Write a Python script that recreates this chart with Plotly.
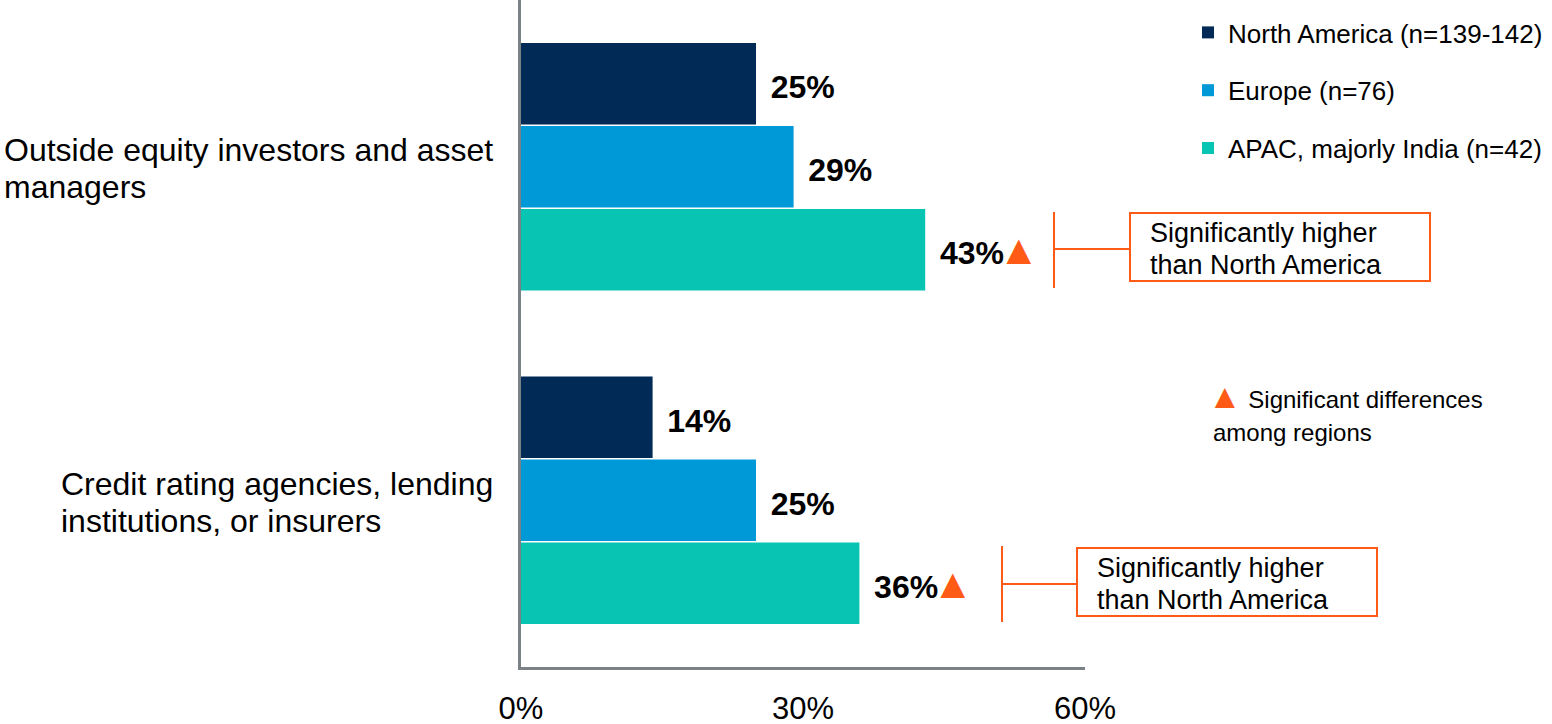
import plotly.graph_objects as go

categories = ["Outside equity investors and asset managers",
              "Credit rating agencies, lending institutions, or insurers"]
category_lines = [["Outside equity investors and asset", "managers"],
                  ["Credit rating agencies, lending", "institutions, or insurers"]]
regions = ["North America (n=139-142)", "Europe (n=76)", "APAC, majorly India (n=42)"]
north_america = [25, 14]
europe = [29, 25]
apac = [43, 36]
apac_significant = [True, True]
x_ticks = [0, 30, 60]
x_tick_labels = ["0%", "30%", "60%"]
callout_lines = ["Significantly higher", "than North America"]
note_lines = ["Significant differences", "among regions"]

colors = ["#012A56", "#0099D7", "#08C4B2"]
orange = "#FF5B16"
axis_grey = "#7A8285"
font = "Liberation Sans, Arial, sans-serif"

# plot area in pixels: x 521..1085, y 0..667
L, R, T, B = 521, 1085, 0, 667
label_left = [2, 59]  # left edge of each (left-aligned) category label block


def px(x):
    return (x - L) / (R - L)


def py(y):
    return (B - y) / (B - T)


tri = f"<span style='color:{orange};font-size:42px'>▲</span>"
pad = "<span style='font-size:42px'>\u00a0</span>"


def labels(vals, flags=None):
    out = []
    for i, v in enumerate(vals):
        if flags and flags[i]:
            t = f"{pad}<b>{v}<span style='letter-spacing:-6px'>%</span></b>{tri}"
        else:
            t = f"{pad}<b>{v}%</b>"
        out.append(t)
    return out


fig = go.Figure()
series = [north_america, europe, apac]
for i, (name, vals) in enumerate(zip(regions, series)):
    fig.add_trace(go.Bar(
        y=categories, x=vals, orientation="h", name=name,
        marker=dict(color=colors[i], line=dict(width=0)),
        text=labels(vals, apac_significant if i == 2 else None),
        textposition="outside", constraintext="none", cliponaxis=False,
        textfont=dict(size=32, color="black", family=font),
        legendgroup=name,
    ))

fig.update_layout(
    width=1552, height=724,
    margin=dict(l=L, r=1552 - R, t=T, b=724 - B, autoexpand=False),
    paper_bgcolor="white", plot_bgcolor="white",
    barmode="group", bargap=0.253, bargroupgap=0.02,
    font=dict(family=font, color="black"),
    showlegend=True,
    legend=dict(x=px(1188), y=py(9), xanchor="left", yanchor="top",
                font=dict(size=26), traceorder="grouped", tracegroupgap=21,
                bgcolor="rgba(0,0,0,0)"),
)
fig.update_xaxes(range=[0, 60], tickvals=x_ticks, ticktext=x_tick_labels,
                 showgrid=False, zeroline=False, showline=True,
                 linecolor=axis_grey, linewidth=3, ticks="", automargin=False,
                 tickfont=dict(size=31), ticklabelstandoff=12)
fig.update_yaxes(type="category", categoryarray=categories, autorange="reversed",
                 showticklabels=False, showgrid=False, zeroline=False, automargin=False,
                 showline=True, linecolor=axis_grey, linewidth=3, ticks="")

# category labels, one annotation per line for tighter spacing
for cat, lines, x0 in zip(categories, category_lines, label_left):
    n = len(lines)
    for k, ln in enumerate(lines):
        fig.add_annotation(x=px(x0), xref="paper", y=cat, yref="y", xanchor="left",
                           yshift=(n - 1) / 2 * 37 - k * 37 - 2, text=ln,
                           showarrow=False, font=dict(size=32))

# significance callouts
callouts = [
    dict(vx=1054, vy0=212, vy1=288, hy=249, bx0=1130, bx1=1430, by0=213, by1=281),
    dict(vx=1002, vy0=546, vy1=622, hy=584, bx0=1077, bx1=1377, by0=548, by1=616),
]
for c in callouts:
    line = dict(color=orange, width=2)
    fig.add_shape(type="line", xref="paper", yref="paper", x0=px(c["vx"]), x1=px(c["vx"]),
                  y0=py(c["vy1"]), y1=py(c["vy0"]), line=line)
    fig.add_shape(type="line", xref="paper", yref="paper", x0=px(c["vx"]), x1=px(c["bx0"]),
                  y0=py(c["hy"]), y1=py(c["hy"]), line=line)
    fig.add_shape(type="rect", xref="paper", yref="paper", x0=px(c["bx0"]), x1=px(c["bx1"]),
                  y0=py(c["by1"]), y1=py(c["by0"]), line=line, fillcolor="rgba(0,0,0,0)")
    mid = (c["by0"] + c["by1"]) / 2
    for k, ln in enumerate(callout_lines):
        fig.add_annotation(x=px(c["bx0"] + 18), xref="paper", y=py(mid - 14 + 32 * k),
                           yref="paper", xanchor="left", yanchor="middle",
                           text=ln, showarrow=False, font=dict(size=27))

fig.add_annotation(x=px(1206), xref="paper", y=py(396), yref="paper", xanchor="left",
                   yanchor="middle", showarrow=False,
                   text=f"<span style='color:{orange};font-size:34px'>▲</span>\u00a0{note_lines[0]}",
                   font=dict(size=24))
fig.add_annotation(x=px(1211), xref="paper", y=py(432), yref="paper", xanchor="left",
                   yanchor="middle", showarrow=False, text=note_lines[1],
                   font=dict(size=24))

fig.write_html("out.html", config={"displayModeBar": False},
               post_script="document.body.style.margin='0';")
